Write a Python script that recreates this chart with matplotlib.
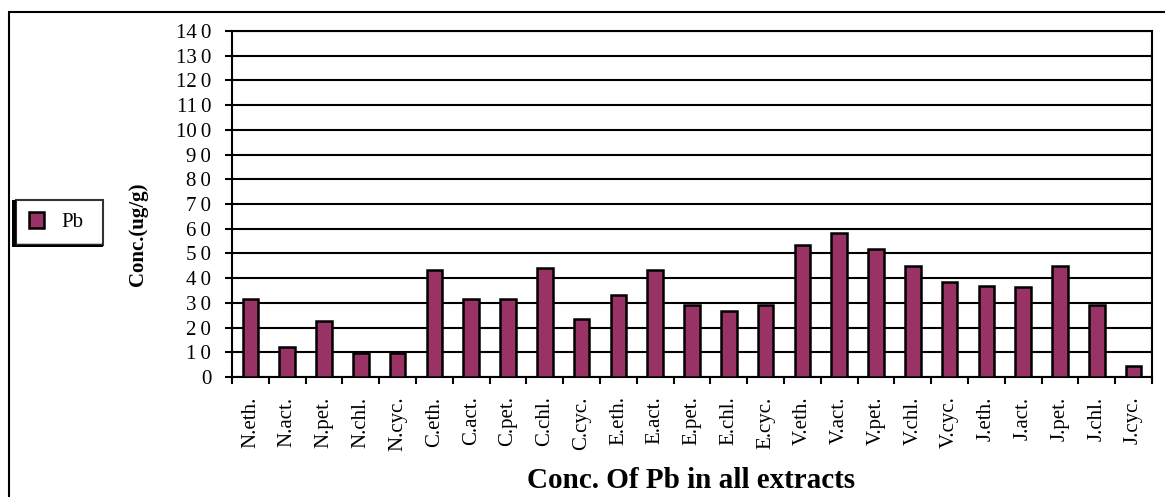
import numpy as np
import matplotlib
matplotlib.use('Agg')
import matplotlib.pyplot as plt
from matplotlib.patches import Rectangle

# data
categories = ['N.eth.', 'N.act.', 'N.pet.', 'N.chl.', 'N.cyc.',
              'C.eth.', 'C.act.', 'C.pet.', 'C.chl.', 'C.cyc.',
              'E.eth.', 'E.act.', 'E.pet.', 'E.chl.', 'E.cyc.',
              'V.eth.', 'V.act.', 'V.pet.', 'V.chl.', 'V.cyc.',
              'J.eth.', 'J.act.', 'J.pet.', 'J.chl.', 'J.cyc.']
pb = [31.4, 12.2, 22.6, 9.8, 9.8,
      43.2, 31.4, 31.4, 44.0, 23.3,
      33.1, 43.2, 29.0, 26.7, 29.0,
      53.3, 58.4, 51.6, 44.9, 38.5,
      36.9, 36.5, 44.9, 29.0, 4.3]
yticks = list(range(0, 150, 10))

W, H = 1165, 497
bar_color = '#993366'
lw = 1.5

plt.rcParams['font.family'] = 'Liberation Serif'

fig = plt.figure(figsize=(W / 100, H / 100), dpi=100)
ax = fig.add_axes([232 / W, 1 - 377 / H, (1152 - 232) / W, (377 - 31) / H])

x = np.arange(len(categories))
bars = ax.bar(x, pb, width=0.42, color=bar_color, edgecolor='black',
              linewidth=lw + 0.3, label='Pb', zorder=3)

ax.set_xlim(-0.5, len(categories) - 0.5)
ax.set_ylim(0, 140)

# y axis: gridlines + outward ticks
ax.set_yticks(yticks)
ax.set_yticklabels([str(v) if v < 10 else str(v)[:-1] + '\u2009' + str(v)[-1] for v in yticks])
ax.yaxis.grid(True, color='black', linewidth=lw, zorder=1)
ax.tick_params(axis='y', direction='out', length=5, width=lw, labelsize=15, pad=10)

# x axis: ticks on boundaries, labels on centres
ax.set_xticks(np.arange(-0.5, len(categories), 1.0))
ax.set_xticklabels([])
ax.set_xticks(x, minor=True)
ax.set_xticklabels(categories, minor=True, rotation=90)
ax.tick_params(axis='x', which='major', direction='out', length=5, width=lw)
ax.tick_params(axis='x', which='minor', length=0, labelsize=15, pad=14)

for s in ax.spines.values():
    s.set_linewidth(lw)
    s.set_color('black')
ax.set_axisbelow(True)

# y label and title as figure text
fig.text(138 / W, 1 - 234 / H, 'Conc.(ug/g)', rotation=90, ha='center', va='center',
         fontsize=15, fontweight='bold')
fig.text(691 / W, 1 - 488 / H, 'Conc. Of Pb in all extracts', ha='center', va='baseline',
         fontsize=21, fontweight='bold')

# legend box on the left
leg = fig.legend(handles=[bars], labels=['Pb'], loc='upper left',
                 bbox_to_anchor=(16 / W, 1 - 244 / H, (103 - 16) / W, (244 - 200) / H),
                 mode='expand', borderaxespad=0, fontsize=15, frameon=True, fancybox=False,
                 handlelength=0.75, handleheight=0.75, handletextpad=0.85, borderpad=0.6)
leg.get_frame().set_edgecolor('black')
leg.get_frame().set_linewidth(lw)
# heavier left/bottom edge of the legend box
fig.patches.append(Rectangle((12 / W, 1 - 247 / H), 5 / W, 47 / H, transform=fig.transFigure,
                             facecolor='black', edgecolor='none', zorder=0))
fig.patches.append(Rectangle((12 / W, 1 - 247 / H), 91 / W, 4 / H, transform=fig.transFigure,
                             facecolor='black', edgecolor='none', zorder=0))

# outer chart border
fig.patches.append(Rectangle((9 / W, -0.05), 1.2, 1 - 12 / H + 0.05, transform=fig.transFigure,
                             facecolor='none', edgecolor='black', linewidth=lw, zorder=0))

fig.savefig('out.png', dpi=100)
